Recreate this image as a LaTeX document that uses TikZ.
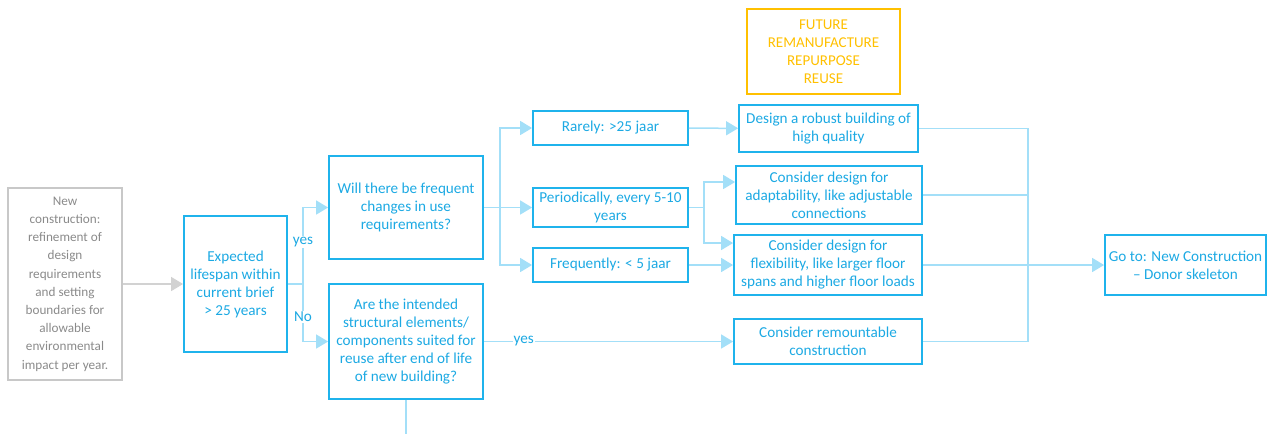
\documentclass[tikz,border=0pt]{standalone}
\usepackage{fontspec}
\setmainfont{Carlito}
\usetikzlibrary{arrows.meta}
\definecolor{boxblue}{HTML}{1FB3EC}
\definecolor{txtblue}{HTML}{1CA9E3}
\definecolor{lineblue}{HTML}{A3DFF8}
\definecolor{gbord}{HTML}{C8C8C8}
\definecolor{gtext}{HTML}{8A8A8A}
\definecolor{garrow}{HTML}{D2D2D2}
\definecolor{orng}{HTML}{FFC000}
\tikzset{
  bx/.style={draw=boxblue, line width=1.8pt, text=txtblue, align=center, inner sep=0pt,
    font=\fontsize{15.2}{18}\selectfont},
  gbx/.style={draw=gbord, line width=1.5pt, text=gtext, align=center, inner sep=0pt,
    font=\fontsize{13.2}{18.2}\selectfont},
  obx/.style={draw=orng, line width=1.5pt, text=orng, align=center, inner sep=0pt,
    font=\fontsize{15}{18}\selectfont},
  conn/.style={draw=lineblue, line width=1.5pt},
  arr/.style={conn, -{Triangle[length=12pt,width=14pt]}},
  lbl/.style={fill=white, text=txtblue, inner sep=1pt, font=\fontsize{15.2}{18}\selectfont},
}
\begin{document}
\begin{tikzpicture}[x=1pt,y=-1pt]
\useasboundingbox (0,0) rectangle (1269,434);
% nodes
\node[gbx, minimum width=114pt, minimum height=192pt] (newc) at (65,284) {New\\construction:\\refinement of\\design\\requirements\\and setting\\boundaries for\\allowable\\environmental\\impact per year.};
\node[bx, minimum width=103pt, minimum height=136pt] (life) at (235.5,284) {Expected\\lifespan within\\current brief\\> 25 years};
\node[bx, minimum width=154pt, minimum height=103pt] (will) at (406,207.5) {Will there be frequent\\changes in use\\requirements?};
\node[bx, minimum width=154pt, minimum height=115pt] (are) at (406,341.5) {Are the intended\\structural elements/\\components suited for\\reuse after end of life\\of new building?};
\node[bx, minimum width=155pt, minimum height=34pt] (rare) at (610.5,128) {Rarely: >25 jaar};
\node[bx, minimum width=155pt, minimum height=39pt] (peri) at (610.5,207.5) {Periodically, every 5-10\\years};
\node[bx, minimum width=155pt, minimum height=34pt] (freq) at (610.5,265) {Frequently: < 5 jaar};
\node[bx, minimum width=179pt, minimum height=47pt] (robust) at (828.5,128.5) {Design a robust building of\\high quality};
\node[bx, minimum width=186pt, minimum height=58pt] (adapt) at (829,195) {Consider design for\\adaptability, like adjustable\\connections};
\node[bx, minimum width=188pt, minimum height=60pt] (flex) at (828,265) {Consider design for\\flexibility, like larger floor\\spans and higher floor loads};
\node[bx, minimum width=188pt, minimum height=45pt] (remount) at (828,341.5) {Consider remountable\\construction};
\node[bx, minimum width=161pt, minimum height=60pt] (goto) at (1185.5,265) {Go to: New Construction\\– Donor skeleton};
\node[obx, minimum width=153pt, minimum height=85pt] (future) at (823.5,51.5) {FUTURE\\REMANUFACTURE\\REPURPOSE\\REUSE};
% coordinates
\coordinate (lb) at (303,284);
\coordinate (wb) at (500,207.5);
\coordinate (pb) at (704,207.5);
\coordinate (mx) at (1028,128.5);
\coordinate (mxb) at (1028,341.5);
\coordinate (abot) at (406,434);
% connectors
\draw[draw=garrow, line width=1.5pt, -{Triangle[length=12pt,width=14pt]}] (newc) -- (life);
\draw[conn] (life.east) -- (lb);
\draw[arr] (lb) |- (will.west);
\draw[arr] (lb) |- (are.west);
\node[lbl] (lyes) at (303,242) {yes};
\node[lbl] (lno) at (303,317) {No};
\draw[conn] (are.south) -- (abot);
\draw[conn] (will.east) -- (wb);
\draw[arr] (wb) |- (rare.west);
\draw[arr] (wb) -- (peri.west);
\draw[arr] (wb) |- (freq.west);
\draw[conn] (peri.east) -- (pb);
\draw[arr] (pb) |- ([yshift=13pt]adapt.west);
\draw[arr] (pb) |- ([yshift=22pt]flex.west);
\draw[arr] (rare) -- (robust);
\draw[arr] (freq) -- (flex);
\draw[arr] (are.east) -- (remount.west) node[lbl, pos=0.16] (ryes) {yes};
\draw[conn] (robust.east) -- (mx) -- (mxb) -- (remount.east);
\draw[conn] (adapt.east) -- (adapt.east -| mx);
\draw[arr] (flex) -- (goto);
\end{tikzpicture}
\end{document}
